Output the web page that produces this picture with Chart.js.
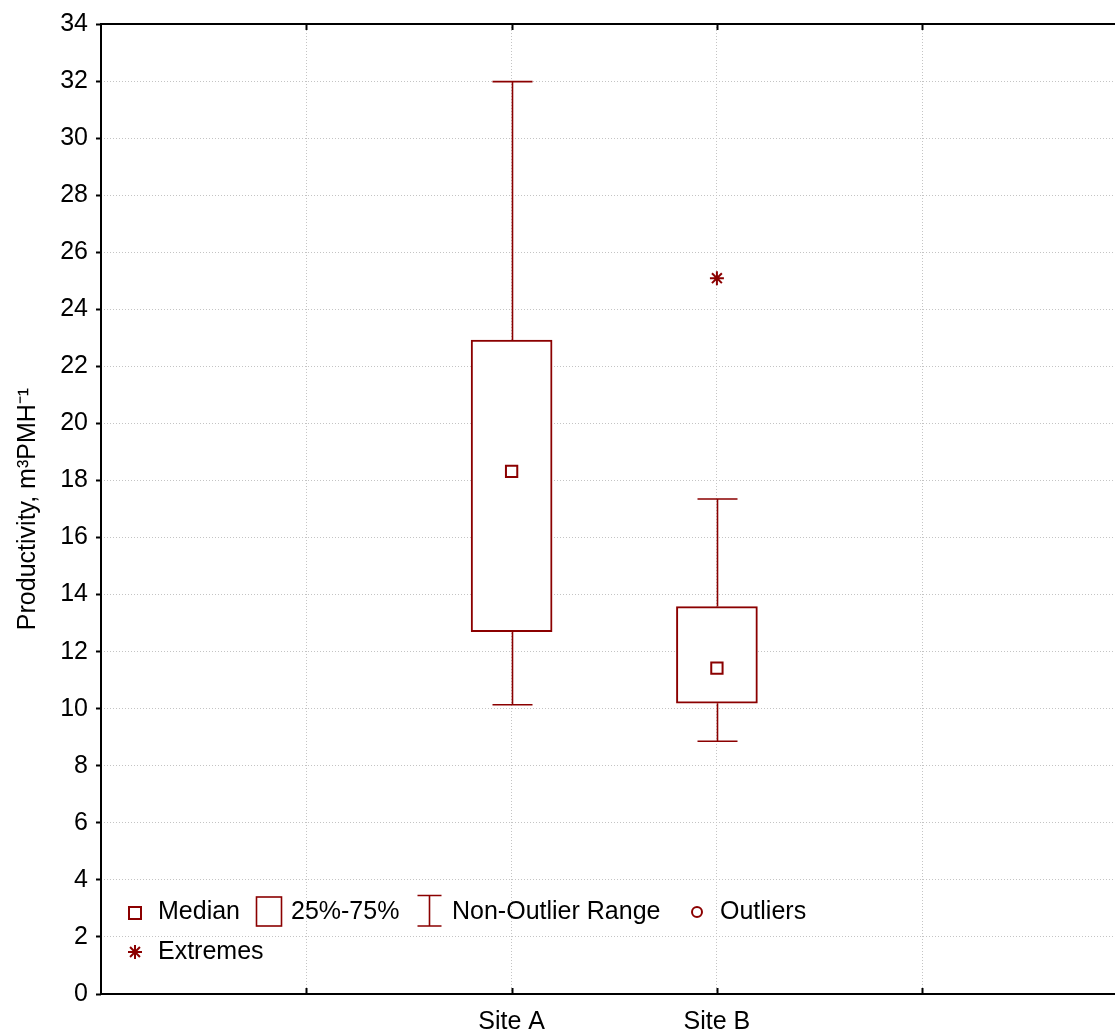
<!DOCTYPE html>
<html>
<head>
<meta charset="utf-8">
<script src="https://cdn.jsdelivr.net/npm/chart.js@4.4.1/dist/chart.umd.min.js"></script>
<style>
  html, body { margin: 0; padding: 0; background: #fff; overflow: hidden; }
  canvas { display: block; }
</style>
</head>
<body>
<canvas id="chart" width="1115" height="1034"></canvas>
<script>
// values
const siteLabels = ['Site A', 'Site B'];
const sitePos = [2, 3];
const nonOutlierMin = [10.14, 8.86];
const quartile25 = [12.70, 10.19];
const medians = [18.32, 11.42];
const quartile75 = [22.92, 13.58];
const nonOutlierMax = [31.98, 17.35];
const extremes = [[], [25.09]];
const xGridPos = [1, 2, 3, 4];
const yMin = 0, yMax = 34, yStep = 2;

const red = '#8b0000';
const fontFamily = '"Liberation Sans", Arial, sans-serif';
Chart.defaults.font.family = fontFamily;
Chart.defaults.font.size = 25;
Chart.defaults.color = '#000';

const whiskers = {
  id: 'whiskers',
  beforeDatasetsDraw(chart) {
    const { ctx, scales: { x, y } } = chart;
    ctx.save();
    ctx.strokeStyle = red;
    ctx.lineWidth = 1.6;
    sitePos.forEach((pos, i) => {
      const px = Math.round(x.getPixelForValue(pos)) + 0.5;
      [[quartile75[i], nonOutlierMax[i]], [quartile25[i], nonOutlierMin[i]]].forEach(([from, to]) => {
        const y0 = y.getPixelForValue(from), y1 = y.getPixelForValue(to);
        ctx.beginPath();
        ctx.moveTo(px, y0);
        ctx.lineTo(px, y1);
        ctx.moveTo(px - 20, y1);
        ctx.lineTo(px + 20, y1);
        ctx.stroke();
      });
    });
    ctx.restore();
  }
};

const frame = {
  id: 'frame',
  afterDraw(chart) {
    const { ctx, chartArea: a, scales: { x } } = chart;
    ctx.save();
    ctx.strokeStyle = '#000';
    ctx.lineWidth = 2;
    ctx.beginPath();
    ctx.moveTo(a.left, a.top);
    ctx.lineTo(a.right, a.top);
    ctx.moveTo(a.left, a.top - 1);
    ctx.lineTo(a.left, a.bottom + 1);
    ctx.moveTo(a.left, a.bottom);
    ctx.lineTo(a.right, a.bottom);
    xGridPos.forEach(v => {
      const px = Math.round(x.getPixelForValue(v)) + 0.5;
      ctx.moveTo(px, a.bottom);
      ctx.lineTo(px, a.bottom - 6);
      ctx.moveTo(px, a.top);
      ctx.lineTo(px, a.top + 6);
    });
    ctx.stroke();

    // legend inside the plot
    const L = a.left, r1 = a.bottom - 82, r2 = a.bottom - 42;
    ctx.strokeStyle = red;
    ctx.lineWidth = 2;
    ctx.strokeRect(L + 28, r1 - 5, 12, 12);
    ctx.lineWidth = 1.6;
    ctx.strokeRect(L + 155.5, r1 - 15, 25, 29);
    const wx = L + 328.5;
    ctx.beginPath();
    ctx.moveTo(wx - 12, r1 - 16.5); ctx.lineTo(wx + 12, r1 - 16.5);
    ctx.moveTo(wx, r1 - 16.5); ctx.lineTo(wx, r1 + 14);
    ctx.moveTo(wx - 12, r1 + 14); ctx.lineTo(wx + 12, r1 + 14);
    ctx.stroke();
    ctx.lineWidth = 2;
    ctx.beginPath();
    ctx.arc(L + 596, r1, 5, 0, Math.PI * 2);
    ctx.stroke();
    Chart.helpers.drawPoint(ctx, { pointStyle: 'star', radius: 7, borderWidth: 2 }, L + 34, r2);

    ctx.fillStyle = '#000';
    ctx.font = '25px ' + fontFamily;
    ctx.textBaseline = 'middle';
    ctx.fillText('Median', L + 57, r1);
    ctx.fillText('25%-75%', L + 190, r1);
    ctx.fillText('Non-Outlier Range', L + 351, r1);
    ctx.fillText('Outliers', L + 619, r1);
    ctx.fillText('Extremes', L + 57, r2);
    ctx.restore();
  }
};

const ctx = document.getElementById('chart').getContext('2d');
new Chart(ctx, {
  type: 'bar',
  data: {
    datasets: [
      {
        type: 'bar',
        label: '25%-75%',
        data: sitePos.map((x, i) => ({ x, y: [quartile25[i], quartile75[i]] })),
        backgroundColor: '#fff',
        borderColor: red,
        borderWidth: 2,
        borderSkipped: false,
        barThickness: 81,
        order: 3
      },
      {
        type: 'scatter',
        label: 'Median',
        data: sitePos.map((x, i) => ({ x, y: medians[i] })),
        pointStyle: 'rect',
        radius: 8,
        borderWidth: 2,
        borderColor: red,
        backgroundColor: '#fff',
        order: 2
      },
      {
        type: 'scatter',
        label: 'Extremes',
        data: sitePos.flatMap((x, i) => extremes[i].map(v => ({ x, y: v }))),
        pointStyle: 'star',
        radius: 7,
        borderWidth: 2,
        borderColor: red,
        backgroundColor: red,
        order: 1
      }
    ]
  },
  options: {
    responsive: false,
    animation: false,
    layout: { autoPadding: false, padding: { top: 24, right: 0, left: 0, bottom: 0 } },
    plugins: { legend: { display: false }, tooltip: { enabled: false } },
    scales: {
      x: {
        type: 'linear',
        min: 0,
        max: 4.939,
        offset: false,
        afterBuildTicks: s => { s.ticks = xGridPos.map(v => ({ value: v })); },
        afterFit: s => { s.height = 40; },
        ticks: {
          padding: 13,
          maxRotation: 0,
          callback: v => {
            const i = sitePos.indexOf(v);
            return i >= 0 ? siteLabels[i] : '';
          }
        },
        grid: { offset: false, color: '#c4c4c4', lineWidth: 1, drawTicks: false },
        border: { display: false, dash: [1, 2] }
      },
      y: {
        min: yMin,
        max: yMax,
        afterFit: s => { s.width = 101; },
        ticks: { stepSize: yStep, padding: 8 },
        grid: {
          color: '#c4c4c4',
          lineWidth: 1,
          tickColor: '#000',
          tickLength: 5,
          tickBorderDash: [],
          tickWidth: 2
        },
        border: { display: false, dash: [1, 2] },
        title: {
          display: true,
          text: 'Productivity, m³PMH⁻¹',
          padding: { top: 13, bottom: 0 },
          font: { size: 25 }
        }
      }
    }
  },
  plugins: [whiskers, frame]
});
</script>
</body>
</html>
